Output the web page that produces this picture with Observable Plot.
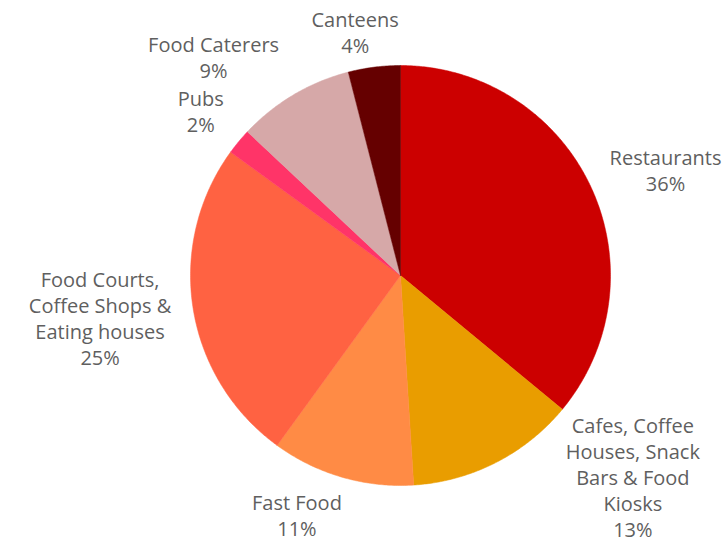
<!DOCTYPE html>
<html>
<head>
<meta charset="utf-8">
<script src="https://cdn.jsdelivr.net/npm/d3@7"></script>
<script src="https://cdn.jsdelivr.net/npm/@observablehq/plot@0.6"></script>
<style>
  html, body { margin: 0; padding: 0; background: #fff; }
  #chart { width: 726px; height: 542px; }
</style>
</head>
<body>
<div id="chart"></div>
<script>
// Data (clockwise from 12 o'clock)
const categories = [
  "Restaurants",
  "Cafes, Coffee\nHouses, Snack\nBars & Food\nKiosks",
  "Fast Food",
  "Food Courts,\nCoffee Shops &\nEating houses",
  "Pubs",
  "Food Caterers",
  "Canteens"
];
const shares = [36, 13, 11, 25, 2, 9, 4];
const colors = ["#CC0000", "#E99D00", "#FF8B45", "#FF6242", "#FF3468", "#D6A8A8", "#650000"];
// label nudges in pixels from the slice's outer edge at its mid-angle
const labelNudge = [[75, -16], [137, 14], [-45, 38], [-93, 9], [-38, -31], [-80, -38], [-19, -35]];

const R = 210; // pixels per data unit (radius)
const total = d3.sum(shares);
let acc = 0;
const slicePts = [];
const labels = [];
categories.forEach((c, i) => {
  const a0 = acc / total * 2 * Math.PI;
  acc += shares[i];
  const a1 = acc / total * 2 * Math.PI;
  slicePts.push({cat: c, x: 0, y: 0});
  const n = Math.max(2, Math.ceil((a1 - a0) / (Math.PI / 360)));
  for (let k = 0; k <= n; k++) {
    const a = a0 + (a1 - a0) * k / n;
    slicePts.push({cat: c, x: Math.sin(a), y: Math.cos(a)});
  }
  slicePts.push({cat: c, x: 0, y: 0});
  const am = (a0 + a1) / 2;
  labels.push({
    text: c + "\n" + shares[i] + "%",
    x: Math.sin(am) + labelNudge[i][0] / R,
    y: Math.cos(am) - labelNudge[i][1] / R
  });
});

const chart = Plot.plot({
  width: 726,
  height: 542,
  marginLeft: 190,
  marginRight: 116,
  marginTop: 65,
  marginBottom: 57,
  x: {domain: [-1, 1], axis: null},
  y: {domain: [-1, 1], axis: null},
  color: {domain: categories, range: colors, type: "ordinal"},
  style: {fontFamily: "'Open Sans', sans-serif", background: "#fff", overflow: "visible"},
  marks: [
    Plot.line(slicePts, {x: "x", y: "y", z: "cat", fill: "cat", stroke: "cat", strokeWidth: 0.5, curve: "linear"}),
    Plot.text(labels, {x: "x", y: "y", text: "text", fontSize: 20, lineHeight: 1.3, fill: "#5f5f5f", textAnchor: "middle", lineAnchor: "middle"})
  ]
});
document.getElementById("chart").appendChild(chart);
</script>
</body>
</html>
